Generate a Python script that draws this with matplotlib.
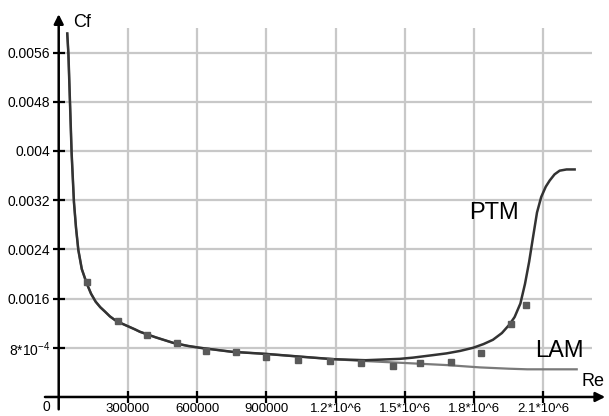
import matplotlib
matplotlib.use("Agg")
import matplotlib.pyplot as plt

plt.rcParams['font.family'] = ['Liberation Sans', 'DejaVu Sans']
plt.rcParams['mathtext.fontset'] = 'custom'
plt.rcParams['mathtext.rm'] = 'Liberation Sans'
plt.rcParams['mathtext.it'] = 'Liberation Sans'

# PTM model curve (Re, Cf)
ptm_re = [37000, 42000, 49000, 56000, 66000, 75000, 85000, 100000, 121000, 140000,
          160000, 180000, 200000, 222000, 244000, 270000, 300000, 330000, 352000,
          420000, 496000, 560000, 612000, 750000, 900000, 1050000, 1188000,
          1330000, 1477000, 1535000, 1620000, 1680000, 1740000, 1795000, 1840000,
          1881000, 1920000, 1953000, 1975000, 2000000, 2020000, 2038000, 2054000,
          2072000, 2090000, 2110000, 2127000, 2148000, 2170000, 2200000, 2235000]
ptm_cf = [0.00591, 0.00558, 0.00477, 0.00396, 0.00317, 0.00275, 0.00239, 0.00208,
          0.00185, 0.00168, 0.00155, 0.00146, 0.00139, 0.00131, 0.00125, 0.0012,
          0.00115, 0.0011, 0.00106, 0.00097, 0.00088, 0.00083, 0.0008, 0.000735,
          0.0007, 0.000655, 0.000615, 0.000598, 0.00062, 0.00064, 0.00068, 0.000709,
          0.00075, 0.0008, 0.00086, 0.00093, 0.00104, 0.00118, 0.0013, 0.00152,
          0.00184, 0.0022, 0.00258, 0.003, 0.00325, 0.00342, 0.00352, 0.00362,
          0.00368, 0.0037, 0.0037]

# laminar curve
lam_re = [37000, 42000, 49000, 56000, 66000, 75000, 85000, 100000, 121000, 140000,
          160000, 180000, 200000, 222000, 244000, 270000, 300000, 330000, 352000,
          420000, 496000, 560000, 612000, 750000, 900000, 1050000, 1188000,
          1300000, 1390000, 1535000, 1680000, 1825000, 1950000, 2030000, 2244000]
lam_cf = [0.00591, 0.00558, 0.00477, 0.00396, 0.00317, 0.00275, 0.00239, 0.00208,
          0.00185, 0.00168, 0.00155, 0.00146, 0.00139, 0.00131, 0.00125, 0.0012,
          0.00115, 0.0011, 0.00106, 0.00097, 0.00088, 0.00083, 0.0008, 0.000735,
          0.0007, 0.000655, 0.000615, 0.00059, 0.000573, 0.000546, 0.000519,
          0.000481, 0.00046, 0.00045, 0.00045]

# experiment points
exp_re = [121000, 258000, 384000, 511000, 640000, 770000, 900000, 1037000, 1174000,
          1309000, 1446000, 1564000, 1699000, 1831000, 1961000, 2026000]
exp_cf = [0.00187, 0.00124, 0.00101, 0.00088, 0.00075, 0.000724, 0.000654, 0.0006,
          0.00058, 0.000546, 0.000503, 0.000557, 0.000573, 0.000719, 0.00118, 0.00149]

xticks = [300000, 600000, 900000, 1200000, 1500000, 1800000, 2100000]
xlabels = ['300000', '600000', '900000', '1.2*10^6', '1.5*10^6', '1.8*10^6', '2.1*10^6']
yticks = [0.0008, 0.0016, 0.0024, 0.0032, 0.004, 0.0048, 0.0056]
ylabels = ['8*10$^{-4}$', '0.0016', '0.0024', '0.0032', '0.004', '0.0048', '0.0056']

fig = plt.figure(figsize=(6.09, 4.16), dpi=100)
ax = fig.add_axes([0.0964, 0.0457, 0.8756, 0.887])

ax.set_xlim(0, 2.31e6)
ax.set_ylim(0, 0.006)

ax.grid(True, color='#c8c8c8', lw=1.6)
ax.set_axisbelow(True)
for s in ax.spines.values():
    s.set_visible(False)

ax.set_xticks(xticks)
ax.set_xticklabels(xlabels)
ax.set_yticks(yticks)
ax.set_yticklabels(ylabels)
ax.tick_params(direction='inout', length=8, width=1.6, labelsize=10, pad=2)
ax.tick_params(axis='x', labelsize=9.5, pad=0.5)

ax.plot(lam_re, lam_cf, color='#7a7a7a', lw=1.6, zorder=3)
ax.plot(ptm_re, ptm_cf, color='#333333', lw=1.8, zorder=4)
ax.plot(exp_re, exp_cf, 's', color='#5a5a5a', ms=5, zorder=5)

# axis arrows
ax.annotate('', xy=(0, 1.045), xytext=(0, -0.041), xycoords='axes fraction',
            arrowprops=dict(arrowstyle='-|>', color='k', lw=1.8, mutation_scale=14),
            annotation_clip=False)
ax.annotate('', xy=(1.03, 0), xytext=(-0.031, 0), xycoords='axes fraction',
            arrowprops=dict(arrowstyle='-|>', color='k', lw=1.8, mutation_scale=14),
            annotation_clip=False)

ax.text(0.027, 1.016, 'Cf', transform=ax.transAxes, fontsize=13, va='center', ha='left')
ax.text(0.981, 0.043, 'Re', transform=ax.transAxes, fontsize=13, va='center', ha='left')
ax.text(-0.015, -0.027, '0', transform=ax.transAxes, fontsize=10, va='center', ha='right')

ax.text(1.78e6, 0.00299, 'PTM', fontsize=17, va='center', ha='left')
ax.text(2.062e6, 0.000747, 'LAM', fontsize=17, va='center', ha='left')

fig.savefig('out.png', dpi=100)
